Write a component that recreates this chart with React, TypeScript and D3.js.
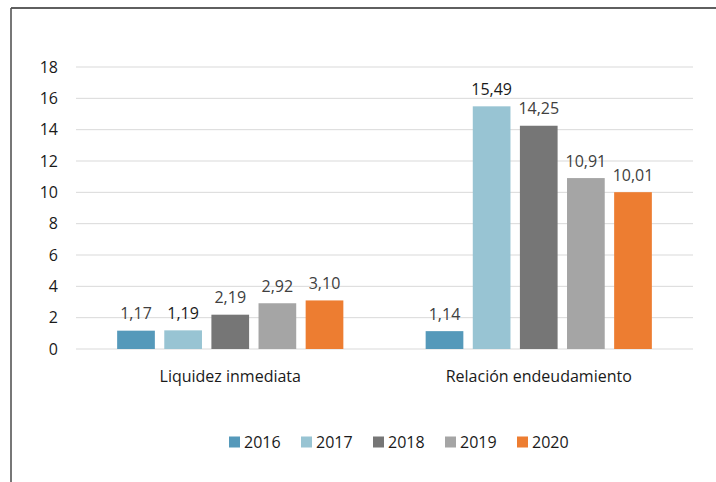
import React from "react";
import * as d3 from "d3";

const categories = ["Liquidez inmediata", "Relación endeudamiento"];
const years = ["2016", "2017", "2018", "2019", "2020"];
const values2016 = [1.17, 1.14];
const values2017 = [1.19, 15.49];
const values2018 = [2.19, 14.25];
const values2019 = [2.92, 10.91];
const values2020 = [3.1, 10.01];
const yTicks = [0, 2, 4, 6, 8, 10, 12, 14, 16, 18];

const seriesValues = [values2016, values2017, values2018, values2019, values2020];
const colors = ["#5599BA", "#98C4D3", "#767676", "#A5A5A5", "#ED7D31"];
const labelColors = ["#404040", "#1a1a1a", "#404040", "#404040", "#404040"];

const W = 716;
const H = 482;
const FONT = "'Open Sans', sans-serif";

export default function App() {
  const x0 = d3.scaleBand().domain(categories).range([76, 693]).padding(0);
  const groupW = 226.2;
  const x1 = d3.scaleBand().domain(years).range([0, groupW]).paddingInner(0.2);
  const y = d3.scaleLinear().domain([0, 18]).range([349, 67]);
  const fmt = (v: number) => v.toFixed(2).replace(".", ",");

  return (
    <svg
      width={W}
      height={H}
      style={{ position: "fixed", left: 0, top: 0, background: "#fff" }}
      fontFamily={FONT}
    >
      <rect x={0} y={0} width={W} height={H} fill="#fff" />
      <line x1={11} x2={W} y1={8} y2={8} stroke="#2a2a2a" strokeWidth={1.6} />
      <line x1={11} x2={11} y1={8} y2={H} stroke="#555" strokeWidth={1.6} />
      {yTicks.map((t) => (
        <g key={t}>
          <line x1={76} x2={693} y1={y(t)} y2={y(t)} stroke="#d9d9d9" strokeWidth={1} />
          <text x={58} y={y(t)} dy="0.35em" textAnchor="end" fontSize={16} fill="#1a1a1a">
            {t}
          </text>
        </g>
      ))}
      {categories.map((c, ci) => {
        const cx = (x0(c) as number) + x0.bandwidth() / 2;
        const start = cx - groupW / 2;
        return (
          <g key={c}>
            {years.map((yr, si) => {
              const v = seriesValues[si][ci];
              const bx = start + (x1(yr) as number);
              return (
                <g key={yr}>
                  <rect
                    x={bx}
                    y={y(v)}
                    width={x1.bandwidth()}
                    height={y(0) - y(v)}
                    fill={colors[si]}
                  />
                  <text
                    x={bx + x1.bandwidth() / 2}
                    y={y(v) - 17}
                    dy="0.35em"
                    textAnchor="middle"
                    fontSize={16}
                    fill={labelColors[si]}
                  >
                    {fmt(v)}
                  </text>
                </g>
              );
            })}
            <text x={cx} y={376} dy="0.35em" textAnchor="middle" fontSize={16} fill="#1a1a1a">
              {c}
            </text>
          </g>
        );
      })}
      {years.map((yr, si) => {
        const lx = 229 + si * 72;
        return (
          <g key={yr}>
            <rect x={lx} y={436.5} width={11} height={11} fill={colors[si]} />
            <text x={lx + 15} y={442} dy="0.35em" fontSize={16} fill="#1a1a1a">
              {yr}
            </text>
          </g>
        );
      })}
    </svg>
  );
}
